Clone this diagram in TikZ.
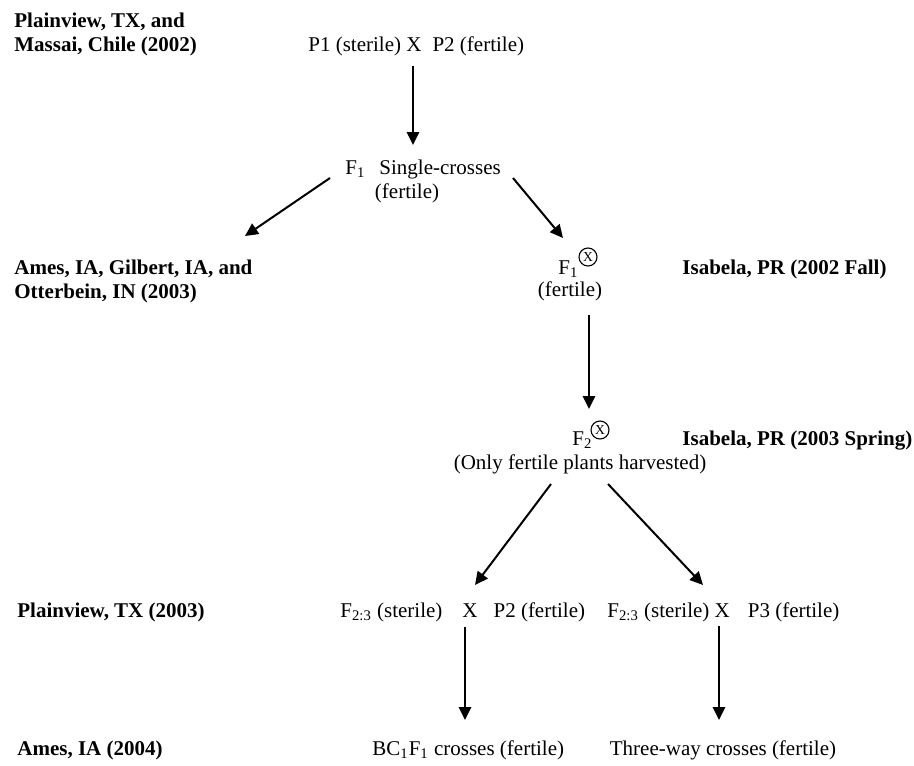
\documentclass[tikz,border=0pt]{standalone}
\usepackage{fontspec}
\setmainfont{Liberation Serif}
\usetikzlibrary{arrows.meta}
\begin{document}
\begin{tikzpicture}[x=0.5pt,y=-0.5pt,
  txt/.style={inner sep=0pt, font=\fontsize{10.5}{12.5}\selectfont},
  lbl/.style={inner sep=0pt, font=\fontsize{10.5}{12.5}\selectfont\bfseries},
  arr/.style={line width=1pt, -{Triangle[length=6.5pt,width=6.2pt]}},
  selfx/.style={circle, draw, line width=0.55pt, inner sep=0pt, minimum size=9pt, font=\fontsize{6.8}{7}\selectfont}]
\useasboundingbox (0,0) rectangle (914,765);
% location labels
\node[lbl, anchor=base west] (loc1a) at (14,28) {Plainview, TX, and};
\node[lbl, anchor=base west] (loc1b) at (14,52) {Massai, Chile (2002)};
\node[lbl, anchor=base west] (loc2a) at (14,274) {Ames, IA, Gilbert, IA, and};
\node[lbl, anchor=base west] (loc2b) at (14,298) {Otterbein, IN (2003)};
\node[lbl, anchor=base west] (loc3) at (682,274) {Isabela, PR (2002 Fall)};
\node[lbl, anchor=base west] (loc4) at (682,445) {Isabela, PR (2003 Spring)};
\node[lbl, anchor=base west] (loc5) at (17,617) {Plainview, TX (2003)};
\node[lbl, anchor=base west] (loc6) at (17,755) {Ames, IA (2004)};
% generations
\node[txt, anchor=base west] (p1) at (308,52) {P1 (sterile) X\hspace{5.5pt}P2 (fertile)};
\node[txt, anchor=base west] (f1) at (345,174) {F\textsubscript{1}\hspace{7pt}Single-crosses};
\node[txt, anchor=base] (f1b) at (407,198) {(fertile)};
\node[txt, anchor=base west] (f1s) at (558,274) {F\textsubscript{1}};
\node[selfx] (f1x) at (588,257) {X};
\node[txt, anchor=base] (f1sb) at (570,296) {(fertile)};
\node[txt, anchor=base west] (f2s) at (572,445) {F\textsubscript{2}};
\node[selfx] (f2x) at (600,430) {X};
\node[txt, anchor=base] (f2sb) at (580,469) {(Only fertile plants harvested)};
\node[txt, anchor=base west] (bc) at (340,617) {F\textsubscript{2:3} (sterile)\hspace{10pt}X\hspace{8pt}P2 (fertile)};
\node[txt, anchor=base west] (tw) at (607,617) {F\textsubscript{2:3} (sterile) X\hspace{9pt}P3 (fertile)};
\node[txt, anchor=base west] (bcf) at (372,755) {BC\textsubscript{1}F\textsubscript{1} crosses (fertile)};
\node[txt, anchor=base] (twc) at (723,755) {Three-way crosses (fertile)};
% arrow ends
\coordinate (a1s) at (413,66);  \coordinate (a1e) at (413,145);
\coordinate (a2s) at (330,178); \coordinate (a2e) at (245,236);
\coordinate (a3s) at (513,178); \coordinate (a3e) at (563,238);
\coordinate (a4s) at (589,315); \coordinate (a4e) at (589,409);
\coordinate (a5s) at (551,484); \coordinate (a5e) at (475,585);
\coordinate (a6s) at (608,484); \coordinate (a6e) at (703,585);
\coordinate (a7s) at (465,627); \coordinate (a7e) at (465,720);
\coordinate (a8s) at (719,626); \coordinate (a8e) at (719,720);
\draw[arr] (a1s) -- (a1e);
\draw[arr] (a2s) -- (a2e);
\draw[arr] (a3s) -- (a3e);
\draw[arr] (a4s) -- (a4e);
\draw[arr] (a5s) -- (a5e);
\draw[arr] (a6s) -- (a6e);
\draw[arr] (a7s) -- (a7e);
\draw[arr] (a8s) -- (a8e);
\end{tikzpicture}
\end{document}
